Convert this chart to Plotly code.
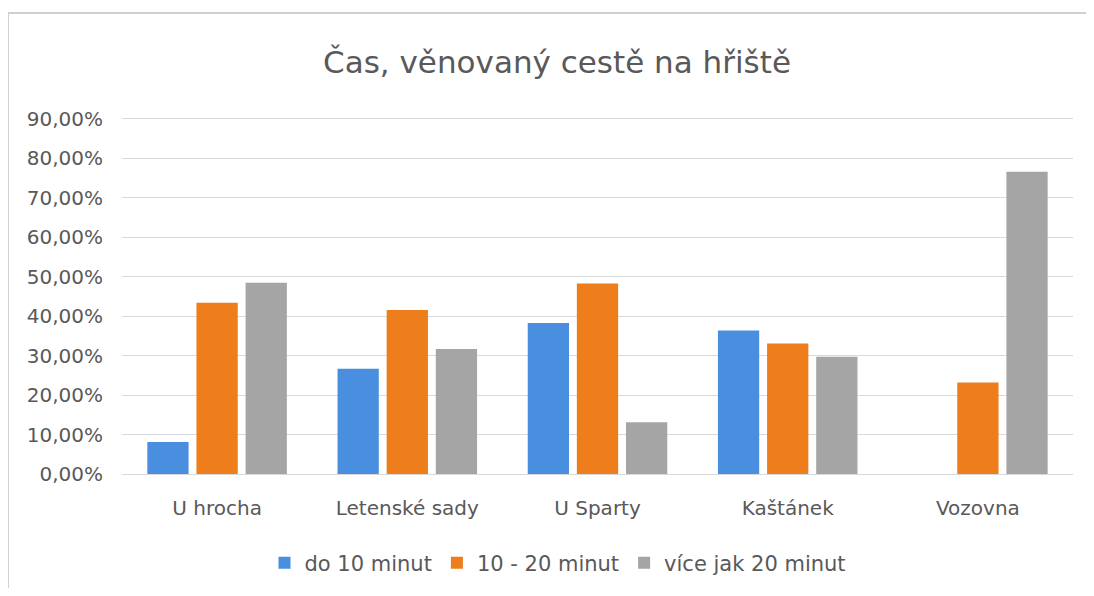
import plotly.graph_objects as go

categories = ["U hrocha", "Letenské sady", "U Sparty", "Kaštánek", "Vozovna"]
series_names = ["do 10 minut", "10 - 20 minut", "více jak 20 minut"]
do_10 = [0.081, 0.267, 0.383, 0.364, 0.0]
od_10_do_20 = [0.434, 0.416, 0.483, 0.331, 0.232]
nad_20 = [0.485, 0.317, 0.131, 0.297, 0.766]
tick_vals = [0, 0.1, 0.2, 0.3, 0.4, 0.5, 0.6, 0.7, 0.8, 0.9]
tick_text = ["0,00%", "10,00%", "20,00%", "30,00%", "40,00%", "50,00%",
             "60,00%", "70,00%", "80,00%", "90,00%"]
colors = ["#4a8ee0", "#ee7d1b", "#a5a5a5"]

# page has an 8px body margin; work in figure coordinates
OFF = 8
W, H = 1094 - 2 * OFF, 596 - 2 * OFF
L, R, T, B = 122 - OFF, 1073 - OFF, 117 - OFF, 474 - OFF
PW, PH = R - L, B - T

fig = go.Figure()
for name, vals, col in zip(series_names, [do_10, od_10_do_20, nad_20], colors):
    fig.add_trace(go.Bar(x=categories, y=vals, name=name, marker_color=col,
                         marker_line_width=0))

font_family = "DejaVu Sans, sans-serif"
fig.update_layout(
    width=W, height=H,
    margin=dict(l=L, r=W - R, t=T, b=H - B, pad=0, autoexpand=False),
    paper_bgcolor="white", plot_bgcolor="white",
    barmode="group", bargap=0.225, bargroupgap=0.16,
    title=dict(text="Čas, věnovaný cestě na hřiště", x=(557 - OFF) / W,
               xref="container", xanchor="center",
               y=1 - (62 - OFF) / H, yanchor="middle",
               font=dict(family=font_family, size=31, color="#595959")),
    font=dict(family=font_family, color="#595959"),
    showlegend=True,
    legend=dict(orientation="h", xref="container", x=(558 - OFF) / W, xanchor="center",
                yref="container", y=1 - (563 - OFF) / H, yanchor="middle",
                font=dict(size=21, color="#595959"),
                itemwidth=30, traceorder="normal"),
    xaxis=dict(showgrid=False, showline=True, linecolor="#d9d9d9", linewidth=1,
               ticks="", tickfont=dict(size=20, color="#595959"), ticklabelstandoff=16,
               automargin=False),
    yaxis=dict(range=[0, 0.905], tickvals=tick_vals, ticktext=tick_text,
               showgrid=True, gridcolor="#d9d9d9", gridwidth=1, zeroline=False,
               showline=False, ticks="", tickfont=dict(size=20, color="#595959"),
               ticklabelstandoff=18, automargin=False),
    shapes=[dict(type="rect", xref="paper", yref="paper",
                 x0=(0 - L) / PW, x1=(W + 30 - L) / PW,
                 y0=-(H + 30 - B) / PH, y1=(B - (13 - OFF)) / PH,
                 line=dict(color="#d0d0d0", width=2), fillcolor="rgba(0,0,0,0)",
                 layer="below")],
)
fig.write_html("out.html")
